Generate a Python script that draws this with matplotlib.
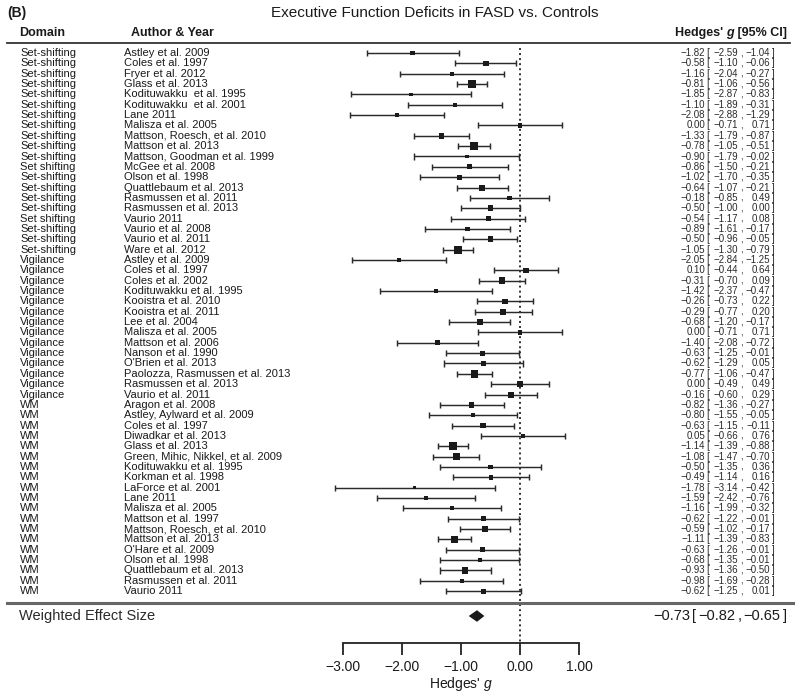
import matplotlib
matplotlib.use('Agg')
import matplotlib.pyplot as plt
from matplotlib import transforms
from matplotlib.patches import Polygon
from matplotlib.lines import Line2D
import numpy as np

plt.rcParams['font.family'] = ['Liberation Sans', 'DejaVu Sans']
plt.rcParams['mathtext.fontset'] = 'custom'
plt.rcParams['mathtext.it'] = 'Liberation Sans:italic'
plt.rcParams['mathtext.rm'] = 'Liberation Sans'
plt.rcParams['axes.unicode_minus'] = True

# ---------------- data ----------------
domains = (["Set-shifting"] * 11 + ["Set shifting"] + ["Set-shifting"] * 4 + ["Set shifting"]
           + ["Set-shifting"] * 3 + ["Vigilance"] * 14 + ["WM"] * 19)
authors = [
    "Astley et al. 2009", "Coles et al. 1997", "Fryer et al. 2012", "Glass et al. 2013",
    "Kodituwakku  et al. 1995", "Kodituwakku  et al. 2001", "Lane 2011", "Malisza et al. 2005",
    "Mattson, Roesch, et al. 2010", "Mattson et al. 2013", "Mattson, Goodman et al. 1999",
    "McGee et al. 2008", "Olson et al. 1998", "Quattlebaum et al. 2013", "Rasmussen et al. 2011",
    "Rasmussen et al. 2013", "Vaurio 2011", "Vaurio et al. 2008", "Vaurio et al. 2011",
    "Ware et al. 2012",
    "Astley et al. 2009", "Coles et al. 1997", "Coles et al. 2002", "Kodituwakku et al. 1995",
    "Kooistra et al. 2010", "Kooistra et al. 2011", "Lee et al. 2004", "Malisza et al. 2005",
    "Mattson et al. 2006", "Nanson et al. 1990", "O'Brien et al. 2013",
    "Paolozza, Rasmussen et al. 2013", "Rasmussen et al. 2013", "Vaurio et al. 2011",
    "Aragon et al. 2008", "Astley, Aylward et al. 2009", "Coles et al. 1997",
    "Diwadkar et al. 2013", "Glass et al. 2013", "Green, Mihic, Nikkel, et al. 2009",
    "Kodituwakku et al. 1995", "Korkman et al. 1998", "LaForce et al. 2001", "Lane 2011",
    "Malisza et al. 2005", "Mattson et al. 1997", "Mattson, Roesch, et al. 2010",
    "Mattson et al. 2013", "O'Hare et al. 2009", "Olson et al. 1998",
    "Quattlebaum et al. 2013", "Rasmussen et al. 2011", "Vaurio 2011",
]
g = [-1.82, -0.58, -1.16, -0.81, -1.85, -1.10, -2.08, 0.00, -1.33, -0.78, -0.90, -0.86,
     -1.02, -0.64, -0.18, -0.50, -0.54, -0.89, -0.50, -1.05,
     -2.05, 0.10, -0.31, -1.42, -0.26, -0.29, -0.68, 0.00, -1.40, -0.63, -0.62, -0.77,
     0.00, -0.16,
     -0.82, -0.80, -0.63, 0.05, -1.14, -1.08, -0.50, -0.49, -1.78, -1.59, -1.16, -0.62,
     -0.59, -1.11, -0.63, -0.68, -0.93, -0.98, -0.62]
lo = [-2.59, -1.10, -2.04, -1.06, -2.87, -1.89, -2.88, -0.71, -1.79, -1.05, -1.79, -1.50,
      -1.70, -1.07, -0.85, -1.00, -1.17, -1.61, -0.96, -1.30,
      -2.84, -0.44, -0.70, -2.37, -0.73, -0.77, -1.20, -0.71, -2.08, -1.25, -1.29, -1.06,
      -0.49, -0.60,
      -1.36, -1.55, -1.15, -0.66, -1.39, -1.47, -1.35, -1.14, -3.14, -2.42, -1.99, -1.22,
      -1.02, -1.39, -1.26, -1.35, -1.36, -1.69, -1.25]
hi = [-1.04, -0.06, -0.27, -0.56, -0.83, -0.31, -1.29, 0.71, -0.87, -0.51, -0.02, -0.21,
      -0.35, -0.21, 0.49, 0.00, 0.08, -0.17, -0.05, -0.79,
      -1.25, 0.64, 0.09, -0.47, 0.22, 0.20, -0.17, 0.71, -0.72, -0.01, 0.05, -0.47,
      0.49, 0.29,
      -0.27, -0.05, -0.11, 0.76, -0.88, -0.70, 0.36, 0.16, -0.42, -0.76, -0.32, -0.01,
      -0.17, -0.83, -0.01, -0.01, -0.50, -0.28, 0.01]
pooled_label = "Weighted Effect Size"
pooled = [-0.73, -0.82, -0.65]
xticks = [-3, -2, -1, 0, 1]
title = "Executive Function Deficits in FASD vs. Controls"

# ---------------- layout ----------------
W, H = 800, 698
fig = plt.figure(figsize=(W / 100, H / 100), dpi=100)
ROW0, DR = 53.0, 10.35          # pixel y of first row, row spacing
AXIS_PX = 643.0                 # pixel y of x-axis line
def fx(px): return px / W
def fy(py): return 1 - py / H
def prow(py): return (py - ROW0) / DR

ax = fig.add_axes([0, 1 - AXIS_PX / H, 1, AXIS_PX / H])
ax.set_xlim((0 - 520) / 59.0, (W - 520) / 59.0)
ax.set_ylim(prow(AXIS_PX), prow(0))
ax.set_facecolor('none')
for s in ['top', 'left', 'right']:
    ax.spines[s].set_visible(False)
ax.spines['bottom'].set_bounds(xticks[0], xticks[-1])
ax.spines['bottom'].set_linewidth(1.3)
ax.spines['bottom'].set_color('#222222')
ax.set_yticks([])
ax.set_xticks(xticks)
ax.set_xticklabels([f"{t:.2f}".replace('-', '\u2212') for t in xticks])
ax.tick_params(axis='x', direction='out', length=8.6, width=1.3, color='#222222',
               pad=3.4, labelsize=10, labelcolor='#1a1a1a')

n = len(g)
rows = np.arange(n)
glo, ghi, gg = np.array(lo), np.array(hi), np.array(g)
lc = '#2a2a2a'
ax.hlines(rows, glo, ghi, color=lc, lw=1.05, zorder=2)
ax.vlines(glo, rows - 0.29, rows + 0.29, color=lc, lw=1.05, zorder=2)
ax.vlines(ghi, rows - 0.29, rows + 0.29, color=lc, lw=1.05, zorder=2)
wgt = 1 / np.sqrt(ghi - glo)
side_px = 3.0 + (wgt - wgt.min()) / (wgt.max() - wgt.min()) * 5.3
ax.scatter(gg, rows, marker='s', s=(side_px * 0.72) ** 2, color='#1a1a1a', lw=0, zorder=3)

# reference line at zero
ax.plot([0, 0], [prow(48), prow(AXIS_PX)], ls=(0, (1.0, 1.6)), lw=1.4, color='#333333',
        zorder=1, clip_on=False)

# pooled diamond
yp = prow(616)
ax.add_patch(Polygon([(pooled[1], yp), (pooled[0], yp - 0.36), (pooled[2], yp),
                      (pooled[0], yp + 0.36)], closed=True, facecolor='#1a1a1a',
                     edgecolor='#1a1a1a', lw=2.4, joinstyle='miter', zorder=3))

# x label
tr_xl = transforms.blended_transform_factory(ax.transData, fig.transFigure)
ax.text(-1, fy(684), "Hedges' $g$", transform=tr_xl, ha='center', va='center',
        fontsize=10, color='#1a1a1a')

# ---------------- texts ----------------
tc = '#1a1a1a'
fig.text(fx(7), fy(13), "(B)", fontsize=10, fontweight='bold', va='center', color=tc)
fig.text(fx(435), fy(13), title, fontsize=11, ha='center', va='center', color=tc)
fig.text(fx(19), fy(33), "Domain", fontsize=9, fontweight='bold', va='center', color=tc)
fig.text(fx(131), fy(33), "Author & Year", fontsize=9, fontweight='bold', va='center', color=tc)

# header right with bold-italic g
renderer = fig.canvas.get_renderer()
xr = fx(787)
for piece, style in [(" [95% CI]", 'normal'), ("g", 'italic'), ("Hedges' ", 'normal')]:
    t = fig.text(xr, fy(33), piece, fontsize=9, fontweight='bold', fontstyle=style,
                 ha='right', va='center', color=tc)
    bb = t.get_window_extent(renderer)
    xr = bb.x0 / W

fig.add_artist(Line2D([fx(7), fx(790)], [fy(43), fy(43)], transform=fig.transFigure,
                      color='#333333', lw=1.3))
fig.add_artist(Line2D([fx(7), fx(793)], [fy(603), fy(603)], transform=fig.transFigure,
                      color='#666666', lw=2.2))

tr = transforms.blended_transform_factory(fig.transFigure, ax.transData)
def fmt(v): return f"{v:.2f}".replace('-', '\u2212')
for i in range(n):
    ax.text(fx(20), i, domains[i], transform=tr, fontsize=8, va='center', color=tc)
    ax.text(fx(124), i, authors[i], transform=tr, fontsize=8, va='center', color=tc)
    kw = dict(transform=tr, fontsize=7, va='center', color='#2a2a2a')
    ax.text(fx(705), i, fmt(g[i]), ha='right', **kw)
    ax.text(fx(706.5), i, "[", ha='left', **kw)
    ax.text(fx(738), i, fmt(lo[i]), ha='right', **kw)
    ax.text(fx(740), i, ",", ha='left', **kw)
    ax.text(fx(770), i, fmt(hi[i]), ha='right', **kw)
    ax.text(fx(772), i, "]", ha='left', **kw)

ax.text(fx(19), yp, pooled_label, transform=tr, fontsize=10.5, va='center', color='#2a2a2a')
kw = dict(transform=tr, fontsize=10.5, va='center', color='#1a1a1a')
ax.text(fx(690), yp, fmt(pooled[0]), ha='right', **kw)
ax.text(fx(692), yp, "[", ha='left', **kw)
ax.text(fx(735), yp, fmt(pooled[1]), ha='right', **kw)
ax.text(fx(738), yp, ",", ha='left', **kw)
ax.text(fx(780), yp, fmt(pooled[2]), ha='right', **kw)
ax.text(fx(783), yp, "]", ha='left', **kw)

fig.savefig("out.png", dpi=100)
